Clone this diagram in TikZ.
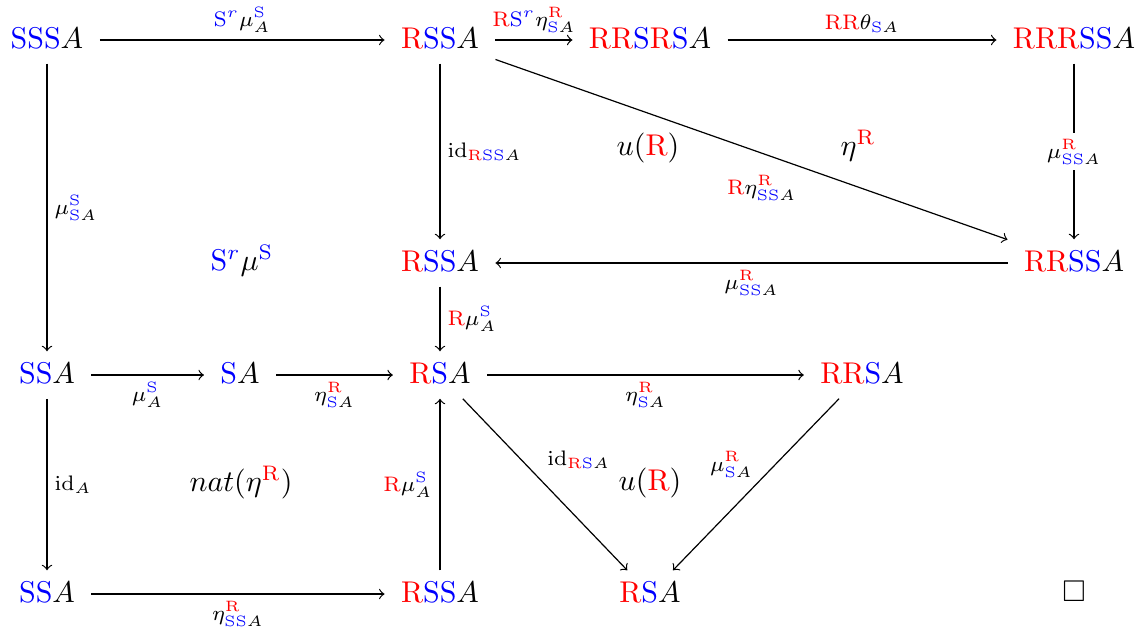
\documentclass[tikz,border=0pt]{standalone}
\usepackage{amssymb}
\newcommand{\cR}{{\color{red}\mathrm{R}}}
\newcommand{\cS}{{\color{blue}\mathrm{S}}}
\newcommand{\blr}{{\color{blue}r}}
\begin{document}
\begin{tikzpicture}[x=0.3333pt,y=-0.3333pt,
  obj/.style={inner xsep=5.3pt, inner ysep=3.8pt, text height=6.83pt, text depth=1pt},
  lab/.style={font=\scriptsize, inner sep=2.3pt},
  desc/.style={font=\scriptsize, inner sep=2pt, fill=white},
  arr/.style={->, line width=0.4pt}]
\useasboundingbox (0,0) rectangle (1146,634);
% objects
\node[obj] (a1) at (47,40) {$\cS\cS\cS A$};
\node[obj] (a3) at (440,40) {$\cR\cS\cS A$};
\node[obj] (a4) at (650,40) {$\cR\cR\cS\cR\cS A$};
\node[obj] (a6) at (1074,40) {$\cR\cR\cR\cS\cS A$};
\node[obj] (b3) at (440,263) {$\cR\cS\cS A$};
\node[obj] (b6) at (1074,263) {$\cR\cR\cS\cS A$};
\node[obj] (c1) at (47,375) {$\cS\cS A$};
\node[obj] (c2) at (240,375) {$\cS A$};
\node[obj] (c3) at (440,375) {$\cR\cS A$};
\node[obj] (c5) at (862,375) {$\cR\cR\cS A$};
\node[obj] (d1) at (47,594) {$\cS\cS A$};
\node[obj] (d3) at (440,594) {$\cR\cS\cS A$};
\node[obj] (d4) at (650,594) {$\cR\cS A$};
\node (qed) at (1074,591) {$\square$};
% 2-cell labels
\node (t1) at (242,261) {$\cS^{\blr}\mu^{\cS}$};
\node (t2) at (648,148) {$u(\cR)$};
\node (t3) at (858,146) {$\eta^{\cR}$};
\node (t4) at (650,483) {$u(\cR)$};
\node (t5) at (241,483) {$nat(\eta^{\cR})$};
% arrows
\draw[arr] (a1) -- node[lab,above] {$\cS^{\blr}\mu^{\cS}_A$} (a3);
\draw[arr] (a3) -- node[lab,above] {$\cR\cS^{\blr}\eta^{\cR}_{\cS A}$} (a4);
\draw[arr] (a4) -- node[lab,above] {$\cR\cR\theta_{\cS A}$} (a6);
\draw[arr] (a6) -- node[desc] {$\mu^{\cR}_{\cS\cS A}$} (b6);
\draw[arr] (a3) -- node[lab,pos=0.52,anchor=north,yshift=-5pt] {$\cR\eta^{\cR}_{\cS\cS A}$} (b6);
\draw[arr] (a3) -- node[lab,right] {$\mathrm{id}_{\cR\cS\cS A}$} (b3);
\draw[arr] (b6) -- node[lab,below] {$\mu^{\cR}_{\cS\cS A}$} (b3);
\draw[arr] (b3) -- node[lab,right] {$\cR\mu^{\cS}_A$} (c3);
\draw[arr] (a1) -- node[lab,right] {$\mu^{\cS}_{\cS A}$} (c1);
\draw[arr] (c1) -- node[lab,below] {$\mu^{\cS}_A$} (c2);
\draw[arr] (c2) -- node[lab,below] {$\eta^{\cR}_{\cS A}$} (c3);
\draw[arr] (c3) -- node[lab,below] {$\eta^{\cR}_{\cS A}$} (c5);
\draw[arr] (c1) -- node[lab,right] {$\mathrm{id}_A$} (d1);
\draw[arr] (d1) -- node[lab,below] {$\eta^{\cR}_{\cS\cS A}$} (d3);
\draw[arr] (d3) -- node[lab,left] {$\cR\mu^{\cS}_A$} (c3);
\draw[arr] (c3) -- node[lab,pos=0.45,anchor=south west,xshift=1pt] {$\mathrm{id}_{\cR\cS A}$} (d4);
\draw[arr] (c5) -- node[lab,pos=0.5,anchor=south east,xshift=1.5pt] {$\mu^{\cR}_{\cS A}$} (d4);
\end{tikzpicture}
\end{document}
